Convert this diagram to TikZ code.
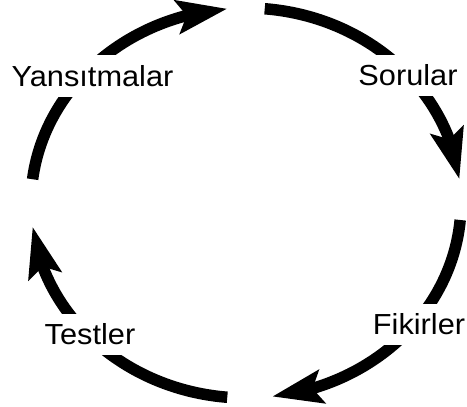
\documentclass[tikz,border=0pt]{standalone}
\usepackage{fontspec}
\setmainfont{Liberation Sans}
\usetikzlibrary{arrows.meta,bending}

\begin{document}
\begin{tikzpicture}[x=1pt,y=1pt]
				\tikzset{cyc/.style={line width=11.5pt, -{Stealth[length=50pt,width=33pt,inset=9pt]}},
					lbl/.style={fill=white, inner sep=10pt, anchor=base, xscale=1.06, transform shape, font=\fontsize{29}{34}\selectfont}}
				\useasboundingbox (0,0) rectangle (467,407);
				\coordinate (O) at (246,204);
				\draw[cyc] ([shift={(173:215pt and 195pt)}]O) arc[start angle=173, end angle=95, x radius=215pt, y radius=195pt];
				\draw[cyc] ([shift={(85:215pt and 195pt)}]O) arc[start angle=85, end angle=7, x radius=215pt, y radius=195pt];
				\draw[cyc] ([shift={(-5:215pt and 195pt)}]O) arc[start angle=-5, end angle=-83, x radius=215pt, y radius=195pt];
				\draw[cyc] ([shift={(-95:215pt and 195pt)}]O) arc[start angle=-95, end angle=-173, x radius=215pt, y radius=195pt];
				\node[lbl] (Y) at (92.5,320.5) {Yansıtmalar};
				\node[lbl] (S) at (408,321) {Sorular};
				\node[lbl] (F) at (419,72) {Fikirler};
				\node[lbl] (T) at (90,62) {Testler};
			\end{tikzpicture}
\end{document}
